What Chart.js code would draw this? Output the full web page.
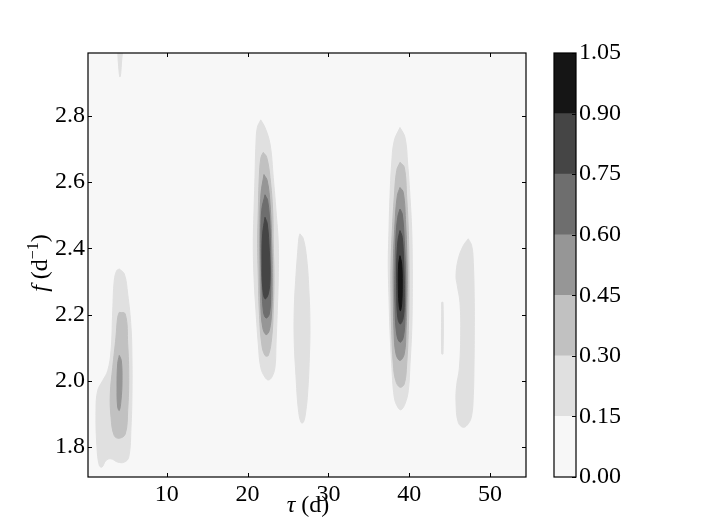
<!DOCTYPE html>
<html lang="en">
<head>
    <meta charset="UTF-8">
    <title>Contour map</title>
    <script src="https://cdn.jsdelivr.net/npm/chart.js"></script>
    <style>
        body { margin: 0; background: #fff; }
        #wrap { position: relative; width: 706px; height: 530px; }
        #wrap canvas { position: absolute; left: 0; top: 0; }
    </style>
</head>
<body>
<div id="wrap">
    <canvas id="map" width="706" height="530"></canvas>
    <canvas id="bar" width="706" height="530"></canvas>
</div>
<script>
    // contour levels and their grey shades
    const levels = [0, 0.15, 0.30, 0.45, 0.60, 0.75, 0.90, 1.05];
    const levelColors = ['#f7f7f7', '#e0e0e0', '#c1c1c1', '#969696', '#6e6e6e', '#454545', '#151515'];
    const xTicks = [10, 20, 30, 40, 50];
    const yTicks = [1.8, 2.0, 2.2, 2.4, 2.6, 2.8];
    const tauRange = [0.26, 54.45];
    const fRange = [1.71, 2.99];

    // contour outlines, [tau, f]
    const peakA1 = [[4.13,2.338],[4.75,2.323],[5.17,2.263],[5.58,2.162],[5.70,2.062],[5.70,1.962],[5.58,1.860],[5.30,1.770],[4.75,1.755],[3.93,1.755],[3.11,1.765],[2.48,1.760],[1.99,1.740],[1.66,1.745],[1.37,1.800],[1.25,1.911],[1.46,1.971],[2.08,2.001],[2.70,2.031],[3.11,2.092],[3.32,2.212],[3.51,2.303],[3.81,2.333]];
    const peakA2 = [[4.13,2.207],[4.87,2.202],[5.17,2.112],[5.30,2.011],[5.17,1.911],[4.87,1.840],[4.13,1.827],[3.51,1.835],[3.11,1.890],[3.02,1.961],[3.32,2.041],[3.72,2.132],[3.93,2.192]];
    const peakA3 = [[4.13,2.077],[4.38,2.062],[4.47,2.001],[4.34,1.941],[4.13,1.911],[3.93,1.921],[3.85,1.981],[3.93,2.052]];

    const peakB1 = [[21.63,2.788],[22.16,2.765],[22.78,2.715],[23.18,2.614],[23.52,2.514],[23.80,2.414],[23.80,2.313],[23.68,2.212],[23.52,2.112],[23.39,2.041],[22.99,2.011],[22.57,2.003],[22.16,2.011],[21.63,2.041],[21.33,2.112],[21.04,2.212],[20.80,2.313],[20.71,2.414],[20.80,2.514],[20.92,2.614],[21.04,2.715],[21.21,2.765]];
    const peakB2 = [[21.95,2.690],[22.37,2.675],[22.78,2.614],[23.11,2.514],[23.18,2.414],[23.27,2.313],[23.18,2.212],[22.99,2.132],[22.57,2.077],[22.16,2.077],[21.75,2.112],[21.45,2.212],[21.33,2.313],[21.25,2.414],[21.33,2.514],[21.45,2.614],[21.66,2.675]];
    const peakB3 = [[22.03,2.623],[22.44,2.604],[22.78,2.534],[22.99,2.414],[23.06,2.313],[22.99,2.212],[22.69,2.152],[22.28,2.140],[21.87,2.162],[21.63,2.233],[21.54,2.363],[21.54,2.464],[21.66,2.564]];
    const peakB4 = [[22.16,2.562],[22.49,2.544],[22.78,2.464],[22.86,2.363],[22.86,2.263],[22.69,2.202],[22.28,2.190],[21.95,2.212],[21.75,2.313],[21.66,2.414],[21.75,2.514]];
    const peakB5 = [[22.16,2.494],[22.44,2.474],[22.69,2.393],[22.78,2.313],[22.57,2.263],[22.16,2.248],[21.87,2.283],[21.79,2.363],[21.87,2.444]];

    const peakC1 = [[26.49,2.444],[26.90,2.429],[27.32,2.368],[27.60,2.268],[27.72,2.167],[27.64,2.067],[27.44,1.966],[27.19,1.906],[26.90,1.875],[26.61,1.875],[26.28,1.916],[25.99,2.016],[25.78,2.117],[25.78,2.218],[25.99,2.318],[26.20,2.388],[26.36,2.433]];

    const peakD1 = [[38.86,2.765],[39.48,2.735],[39.81,2.655],[40.10,2.554],[40.31,2.454],[40.38,2.353],[40.38,2.252],[40.31,2.152],[40.10,2.052],[39.89,1.971],[39.48,1.931],[38.98,1.913],[38.58,1.921],[38.15,1.951],[37.83,2.052],[37.62,2.152],[37.50,2.252],[37.41,2.353],[37.50,2.454],[37.62,2.554],[37.83,2.655],[38.15,2.725]];
    const peakD2 = [[38.86,2.660],[39.39,2.645],[39.69,2.554],[39.89,2.454],[39.97,2.353],[39.97,2.252],[39.89,2.152],[39.69,2.052],[39.39,1.991],[38.86,1.981],[38.33,2.001],[38.03,2.052],[37.83,2.152],[37.75,2.252],[37.75,2.353],[37.91,2.454],[38.15,2.554],[38.45,2.635]];
    const peakD3 = [[38.86,2.584],[39.27,2.569],[39.56,2.474],[39.73,2.353],[39.73,2.252],[39.60,2.152],[39.39,2.082],[38.86,2.062],[38.36,2.082],[38.12,2.152],[38.03,2.252],[38.03,2.353],[38.24,2.474],[38.53,2.559]];
    const peakD4 = [[38.86,2.519],[39.14,2.504],[39.39,2.424],[39.56,2.303],[39.48,2.192],[39.27,2.132],[38.86,2.117],[38.45,2.142],[38.24,2.233],[38.24,2.333],[38.36,2.433],[38.58,2.494]];
    const peakD5 = [[38.86,2.454],[39.14,2.433],[39.32,2.353],[39.39,2.252],[39.27,2.192],[38.90,2.172],[38.58,2.192],[38.45,2.273],[38.45,2.353],[38.61,2.424]];
    const peakD6 = [[38.86,2.378],[39.07,2.353],[39.14,2.293],[39.07,2.233],[38.90,2.212],[38.74,2.233],[38.65,2.293],[38.70,2.353]];

    const streakE1 = [[44.02,2.237],[44.18,2.237],[44.18,2.082],[44.02,2.082]];

    const peakF1 = [[47.31,2.429],[47.73,2.408],[47.93,2.358],[48.05,2.237],[48.05,2.137],[48.01,2.037],[47.93,1.956],[47.73,1.896],[47.31,1.871],[46.69,1.860],[46.07,1.875],[45.79,1.936],[45.87,1.986],[46.20,2.037],[46.37,2.137],[46.28,2.237],[45.95,2.288],[45.79,2.318],[46.07,2.368],[46.69,2.408]];

    const edgeG1 = [[3.88,3.02],[4.47,3.02],[4.40,2.96],[4.22,2.918],[4.05,2.95]];

    // [outline, level band]
    const shapes = [
        [peakA1, 1], [peakA2, 2], [peakA3, 3],
        [peakB1, 1], [peakB2, 2], [peakB3, 3], [peakB4, 4], [peakB5, 5],
        [peakC1, 1],
        [peakD1, 1], [peakD2, 2], [peakD3, 3], [peakD4, 4], [peakD5, 5], [peakD6, 6],
        [streakE1, 1], [peakF1, 1], [edgeG1, 1]
    ];

    const FONT = '"Liberation Serif", "Times New Roman", serif';

    const datasets = shapes.map(([pts, band]) => {
        const data = pts.map(p => ({ x: p[0], y: p[1] }));
        data.push({ x: pts[0][0], y: pts[0][1] });
        return {
            data: data,
            showLine: true,
            fill: 'shape',
            backgroundColor: levelColors[band],
            borderColor: levelColors[band],
            borderWidth: 1,
            pointRadius: 0,
            tension: 0.4,
            order: 10 - band
        };
    });

    function drawTicks(ctx, a, xScale, yScale) {
        ctx.strokeStyle = '#000';
        ctx.lineWidth = 1;
        ctx.beginPath();
        xTicks.forEach(v => {
            const x = Math.round(xScale.getPixelForValue(v)) + 0.5;
            ctx.moveTo(x, a.top); ctx.lineTo(x, a.top + 4);
            ctx.moveTo(x, a.bottom); ctx.lineTo(x, a.bottom - 4);
        });
        yTicks.forEach(v => {
            const y = Math.round(yScale.getPixelForValue(v)) + 0.5;
            ctx.moveTo(a.left, y); ctx.lineTo(a.left + 4, y);
            ctx.moveTo(a.right, y); ctx.lineTo(a.right - 4, y);
        });
        ctx.stroke();
    }

    const mapDecor = {
        id: 'mapDecor',
        beforeDatasetsDraw(chart) {
            const { ctx, chartArea: a } = chart;
            ctx.save();
            ctx.fillStyle = levelColors[0];
            ctx.fillRect(a.left, a.top, a.right - a.left, a.bottom - a.top);
            ctx.restore();
        },
        afterDatasetsDraw(chart) {
            const { ctx, chartArea: a, scales } = chart;
            ctx.save();
            drawTicks(ctx, a, scales.x, scales.y);
            ctx.strokeStyle = '#000';
            ctx.lineWidth = 1.2;
            ctx.strokeRect(a.left, a.top, a.right - a.left, a.bottom - a.top);

            // x title: tau (d)
            ctx.fillStyle = '#000';
            ctx.textBaseline = 'alphabetic';
            ctx.textAlign = 'left';
            ctx.font = 'italic 24px ' + FONT;
            const w1 = ctx.measureText('τ').width;
            ctx.font = '24px ' + FONT;
            const w2 = ctx.measureText(' (d)').width;
            let x0 = 308 - (w1 + w2) / 2;
            ctx.font = 'italic 24px ' + FONT;
            ctx.fillText('τ', x0, 512);
            ctx.font = '24px ' + FONT;
            ctx.fillText(' (d)', x0 + w1, 512);

            // y title: f (d^-1)
            ctx.translate(47, 263);
            ctx.rotate(-Math.PI / 2);
            const parts = [
                ['f', 'italic 24px ', 0],
                [' (d', '24px ', 0],
                ['\u22121', '16px ', -9],
                [')', '24px ', 0]
            ];
            let total = 0;
            parts.forEach(p => { ctx.font = p[1] + FONT; total += ctx.measureText(p[0]).width; });
            let px = -total / 2;
            parts.forEach(p => {
                ctx.font = p[1] + FONT;
                ctx.fillText(p[0], px, p[2]);
                px += ctx.measureText(p[0]).width;
            });
            ctx.restore();
        }
    };

    new Chart(document.getElementById('map'), {
        type: 'scatter',
        data: { datasets: datasets },
        options: {
            responsive: false,
            animation: false,
            layout: { padding: { left: 0, right: 180, top: 53, bottom: 0 } },
            scales: {
                x: {
                    type: 'linear',
                    min: tauRange[0],
                    max: tauRange[1],
                    afterBuildTicks: s => { s.ticks = xTicks.map(v => ({ value: v })); },
                    afterFit: s => { s.height = 53; },
                    grid: { display: false, drawTicks: false },
                    border: { display: false },
                    ticks: { color: '#000', padding: 3, maxRotation: 0, font: { family: FONT, size: 24 },
                             callback: v => String(v) }
                },
                y: {
                    type: 'linear',
                    min: fRange[0],
                    max: fRange[1],
                    afterBuildTicks: s => { s.ticks = yTicks.map(v => ({ value: v })); },
                    afterFit: s => { s.width = 88; },
                    grid: { display: false, drawTicks: false },
                    border: { display: false },
                    ticks: { color: '#000', padding: 3, font: { family: FONT, size: 24 },
                             callback: v => Number(v).toFixed(1) }
                }
            },
            plugins: { legend: { display: false }, tooltip: { enabled: false } }
        },
        plugins: [mapDecor]
    });

    // colour bar
    const barDecor = {
        id: 'barDecor',
        afterDatasetsDraw(chart) {
            const { ctx, chartArea: a, scales } = chart;
            ctx.save();
            ctx.strokeStyle = '#000';
            ctx.lineWidth = 1;
            ctx.beginPath();
            levels.forEach(v => {
                const y = Math.round(scales.y.getPixelForValue(v)) + 0.5;
                ctx.moveTo(a.right, y); ctx.lineTo(a.right - 4, y);
            });
            ctx.stroke();
            ctx.lineWidth = 1.2;
            ctx.strokeRect(a.left, a.top, a.right - a.left, a.bottom - a.top);
            ctx.restore();
        }
    };

    new Chart(document.getElementById('bar'), {
        type: 'bar',
        data: {
            labels: [''],
            datasets: levelColors.map((c, i) => ({
                data: [levels[i + 1] - levels[i]],
                backgroundColor: c,
                borderWidth: 0,
                barPercentage: 1,
                categoryPercentage: 1
            }))
        },
        options: {
            responsive: false,
            animation: false,
            layout: { padding: { left: 554, right: 0, top: 53, bottom: 53 } },
            scales: {
                x: { display: false, stacked: true },
                y: {
                    position: 'right',
                    stacked: true,
                    min: 0,
                    max: 1.05,
                    afterBuildTicks: s => { s.ticks = levels.map(v => ({ value: v })); },
                    afterFit: s => { s.width = 130; },
                    grid: { display: false, drawTicks: false },
                    border: { display: false },
                    ticks: { color: '#000', padding: 3, font: { family: FONT, size: 24 },
                             callback: v => Number(v).toFixed(2) }
                }
            },
            plugins: { legend: { display: false }, tooltip: { enabled: false } }
        },
        plugins: [barDecor]
    });
</script>
</body>
</html>
